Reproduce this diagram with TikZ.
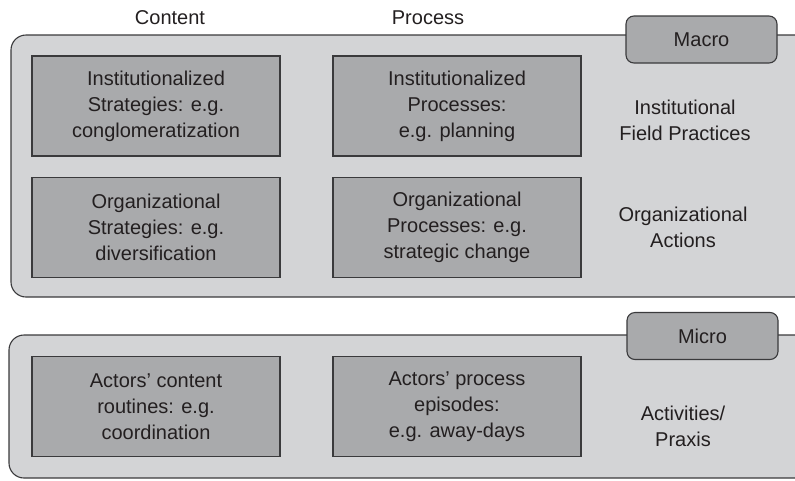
\documentclass[tikz,border=0pt]{standalone}
\usepackage{fontspec}
\setmainfont{Liberation Sans}
\usepackage{tikz}
\usetikzlibrary{positioning,calc}
\definecolor{panelgray}{HTML}{D3D4D6}
\definecolor{boxgray}{HTML}{A9AAAC}
\definecolor{edgegray}{HTML}{3A3A3C}
\definecolor{inkgray}{HTML}{231F20}

\begin{document}
\begin{tikzpicture}[x=1pt,y=-1pt,
    panel/.style={draw=edgegray, line width=1.1pt, fill=panelgray, rounded corners=15pt},
    cell/.style={draw=edgegray, line width=1.1pt, fill=boxgray, minimum width=248pt, minimum height=100pt,
                 align=center, text=inkgray, font=\fontsize{20}{26}\selectfont},
    tab/.style={draw=edgegray, line width=1.1pt, fill=boxgray, rounded corners=8pt, minimum width=151pt,
                minimum height=47pt, text=inkgray, font=\fontsize{20}{26}\selectfont},
    lbl/.style={align=center, text=inkgray, font=\fontsize{20}{26}\selectfont}]
    \useasboundingbox (0,0) rectangle (795,480);
    \clip (0,0) rectangle (795,480);

    % Panels
    \draw[panel] (11,35) rectangle (840,297);
    \draw[panel] (9,335) rectangle (840,478);

    % Tabs
    \node[tab] (macro) at (701.5,39.5) {Macro};
    \node[tab] (micro) at (702.5,336) {Micro};

    % Column headers
    \node[lbl] (content) at (170,18) {Content};
    \node[lbl] (process) at (428,18) {Process};

    % Boxes
    \node[cell] (inststrat) at (156,106) {Institutionalized\\Strategies: e.g.\\conglomeratization};
    \node[cell] (instproc) at (457,106) {Institutionalized\\Processes:\\e.g. planning};
    \node[cell] (orgstrat) at (156,227.5) {Organizational\\Strategies: e.g.\\diversification};
    \node[cell] (orgproc) at (457,227.5) {Organizational\\Processes: e.g.\\strategic change};
    \node[cell] (actcont) at (156,406.5) {Actors' content\\routines: e.g.\\coordination};
    \node[cell] (actproc) at (457,406.5) {Actors' process\\episodes:\\e.g. away-days};

    % Levels
    \node[lbl] (field) at (685,120) {Institutional\\Field Practices};
    \node[lbl] (actions) at (683,227) {Organizational\\Actions};
    \node[lbl] (praxis) at (683,426) {Activities/\\Praxis};
\end{tikzpicture}
\end{document}
